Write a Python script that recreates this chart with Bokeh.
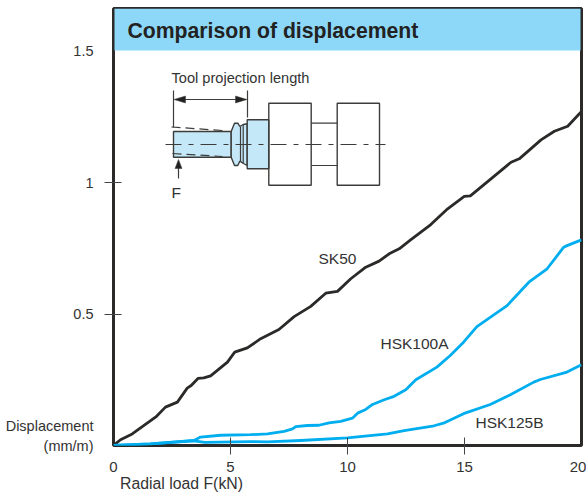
from bokeh.plotting import figure
from bokeh.models import FixedTicker, Label, Range1d, LinearAxis
from bokeh.embed import file_html
from bokeh.resources import INLINE

# ---- chart data ----
sk50_x = [0,0.30,0.80,1.23,1.84,2.22,2.73,3.15,3.32,3.61,3.86,4.15,4.87,5.18,5.72,6.29,7.07,7.72,8.43,9.07,9.57,10.14,10.78,11.35,11.78,12.21,12.71,13.56,14.28,14.99,15.25,16.13,16.99,17.34,18.27,18.84,19.41,20]
sk50_y = [0,0.022,0.044,0.072,0.111,0.146,0.165,0.218,0.228,0.255,0.257,0.265,0.317,0.355,0.371,0.406,0.441,0.49,0.529,0.579,0.586,0.634,0.678,0.701,0.729,0.748,0.783,0.84,0.90,0.947,0.949,1.014,1.077,1.09,1.162,1.195,1.214,1.27]
hsk100_x = [0,1.58,3.44,3.72,4.58,5.86,6.58,7.29,7.65,7.79,8.29,8.78,9.21,9.71,10.21,10.43,10.78,11.07,11.57,11.99,12.49,12.92,13.82,14.39,14.96,15.53,15.96,16.82,17.75,18.53,19.24,19.38,20]
hsk100_y = [0,0.006,0.019,0.032,0.039,0.041,0.044,0.054,0.063,0.072,0.076,0.077,0.086,0.092,0.104,0.123,0.137,0.156,0.174,0.187,0.212,0.25,0.298,0.342,0.393,0.452,0.479,0.532,0.621,0.672,0.754,0.76,0.782]
hsk125_x = [0,1.58,3.44,3.9,5.2,5.86,6.58,8.0,10.0,11.71,12.42,13.7,14.1,14.96,16.1,16.96,17.96,18.24,19.38,20]
hsk125_y = [0,0.006,0.018,0.012,0.014,0.015,0.014,0.019,0.029,0.044,0.057,0.075,0.085,0.121,0.156,0.193,0.241,0.251,0.279,0.307]
x_tick_marks = [5, 10, 15]
y_tick_marks = [0.5, 1]
series_names = ["SK50", "HSK100A", "HSK125B"]
title_text = "Comparison of displacement"
x_axis_title = "Radial load F(kN)"
y_axis_title = "Displacement\n(mm/m)"

BLACK = "#2b2a29"
BLUE = "#00aeef"
TEXT = "#333333"
FONT = "Liberation Sans"

X_SCALE = 23.4
Y_SCALE = 263.0
p = figure(width=586, height=497, output_backend="svg", toolbar_location=None,
           x_range=Range1d(0, 468 / X_SCALE), y_range=Range1d(0, 437 / Y_SCALE),
           min_border_left=113, min_border_right=5, min_border_top=8, min_border_bottom=52,
           background_fill_color="white", border_fill_color="white")
p.grid.visible = False
p.outline_line_color = BLACK
p.outline_line_width = 3

def X(px):
    return (px - 113) / X_SCALE
def Y(py):
    return (445 - py) / Y_SCALE

def style_axis(ax, ticks, marks, overrides, size="15px"):
    ax.ticker = FixedTicker(ticks=ticks, minor_ticks=marks)
    ax.axis_line_color = None
    ax.major_tick_line_color = None
    ax.minor_tick_in = 8
    ax.minor_tick_out = 9
    ax.minor_tick_line_color = "#444444"
    ax.minor_tick_line_width = 1
    ax.major_label_text_font = FONT
    ax.major_label_text_font_size = size
    ax.major_label_text_color = TEXT
    ax.major_label_overrides = overrides

# the "20" label sits just left of the frame edge, the y title sits by the origin
style_axis(p.xaxis[0], [0, 5, 10, 15, X(577.5)], x_tick_marks, {X(577.5): "20"})
style_axis(p.yaxis[0], [Y(435.5), 0.5, 1, 1.5], y_tick_marks, {1: "1", Y(435.5): y_axis_title}, size="14.5px")
p.xaxis[0].major_label_standoff = 7
p.yaxis[0].major_label_standoff = 11

x_title_axis = LinearAxis()
style_axis(x_title_axis, [X(181)], [], {X(181): x_axis_title}, size="15.8px")
x_title_axis.major_tick_in = 0
x_title_axis.major_tick_out = 0
x_title_axis.minor_tick_in = 0
x_title_axis.minor_tick_out = 0
x_title_axis.major_label_standoff = 0
p.add_layout(x_title_axis, "below")

# title band
p.quad(left=[X(114)], right=[X(580)], top=[Y(8)], bottom=[Y(50)], fill_color="#8dd8f8", line_color=None)

# inset diagram
DARK = "#3c3c3b"
FILL = "#c5e8f9"
def poly(xs, ys, fill=None, w=1.4, color=DARK):
    p.patch([X(v) for v in xs], [Y(v) for v in ys], fill_color=fill if fill else "white",
            fill_alpha=1 if fill else 0, line_color=color, line_width=w)
def ln(xs, ys, w=1.2, dash="solid", color=DARK):
    p.line([X(v) for v in xs], [Y(v) for v in ys], line_color=color, line_width=w, line_dash=dash)

poly([173, 230.7, 230.7, 173], [131, 131, 156.7, 156.7], FILL)
poly([230.7, 234, 237.3, 239.3, 242.7, 246.7, 246.7, 243, 239.3, 237.3, 234, 230.7],
     [131, 122.7, 122.7, 126, 124, 123.3, 165, 163, 160.7, 165, 165, 156.7], FILL)
ln([240, 240], [126, 161]); ln([242.7, 242.7], [124, 163])
poly([246.7, 268.3, 268.3, 246.7], [119.3, 119.3, 168.3, 168.3], FILL)
poly([268.3, 310.7, 310.7, 268.3], [102.7, 102.7, 184.7, 184.7])
poly([336.7, 379, 379, 336.7], [102.7, 102.7, 184.7, 184.7])
ln([310.7, 336.7], [122.7, 122.7]); ln([310.7, 336.7], [165, 165])
ln([165, 385], [144, 144], dash="16 7 5 7")
ln([171, 222], [126.5, 130], dash="9 5"); ln([172, 222], [153, 156], dash="9 5")
ln([173, 173], [90, 127]); ln([247, 247], [90, 117]); ln([175, 245], [99, 99])
poly([173.5, 185, 185, 173.5], [99, 95.5, 102.5, 99], "#222222", 0.5)
poly([246.5, 235, 235, 246.5], [99, 95.5, 102.5, 99], "#222222", 0.5)
ln([178, 178], [178, 166])
poly([178, 174.5, 181.5, 178], [159, 168, 168, 159], "#222222", 0.5)

# curves
for xs, ys, col in ((sk50_x, sk50_y, BLACK), (hsk100_x, hsk100_y, BLUE), (hsk125_x, hsk125_y, BLUE)):
    p.line(xs, ys, line_color=col, line_width=2.8, line_join="round")

def label(txt, px, py, size="15.5px", align="left", bold=False, color=TEXT, base="middle"):
    p.add_layout(Label(x=X(px), y=Y(py), text=txt, text_font=FONT, text_font_size=size,
                       text_color=color, text_align=align, text_baseline=base,
                       text_font_style="bold" if bold else "normal"))

label(title_text, 127, 30, size="21.2px", bold=True, color="#222222")
label("Tool projection length", 171, 77, size="14.6px")
label("F", 171, 192)
label(series_names[0], 318, 258)
label(series_names[1], 380, 343)
label(series_names[2], 475, 422)

open("out.html", "w").write(file_html(p, INLINE))
